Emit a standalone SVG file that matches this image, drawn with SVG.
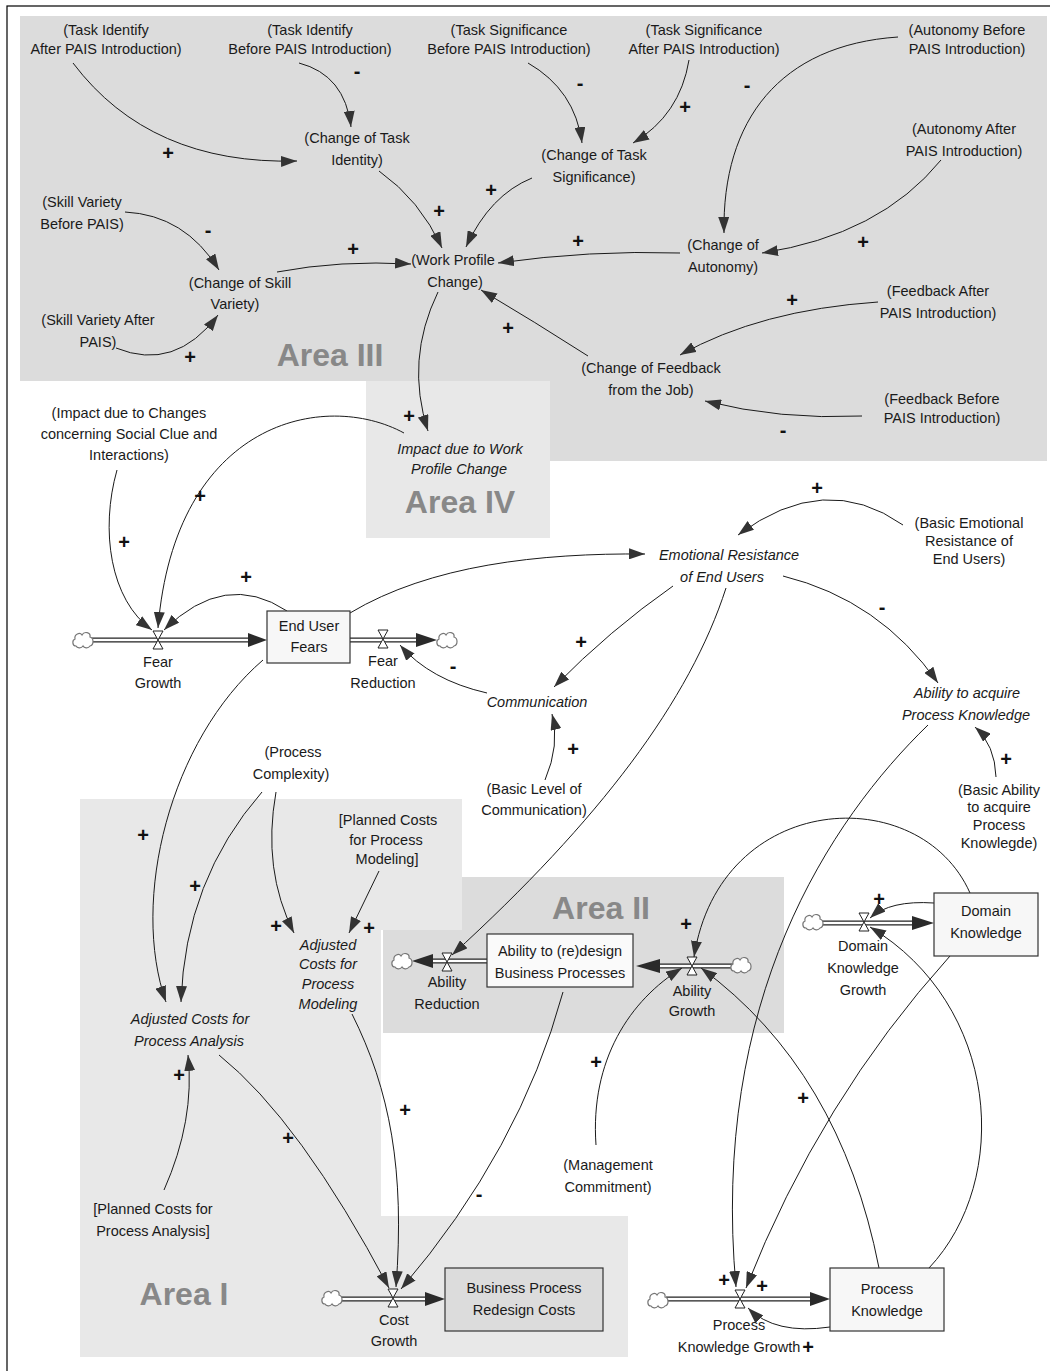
<svg xmlns="http://www.w3.org/2000/svg" xmlns:xlink="http://www.w3.org/1999/xlink" width="1050" height="1371" viewBox="0 0 1050 1371">
<style>
text{font-family:"Liberation Sans",Arial,sans-serif;font-size:14.5px;fill:#1a1a1a;text-anchor:middle}
.it{font-style:italic}
.area{font-size:32px;font-weight:bold;fill:#888}
.pol{font-size:20px;font-weight:bold;fill:#111}
.link{fill:none;stroke:#1a1a1a;stroke-width:1;marker-end:url(#ah)}
.pipeo{stroke:#222;stroke-width:5;fill:none}
.pipei{stroke:#fff;stroke-width:2.4;fill:none}
.stock{stroke:#333;stroke-width:1.2}
.valve{fill:#fff;stroke:#222;stroke-width:1}
.fh{fill:#2a2a2a}
</style>
<defs>
<marker id="ah" markerUnits="userSpaceOnUse" markerWidth="16" markerHeight="11" refX="16" refY="5.5" orient="auto"><path d="M0,0 L16,5.5 L0,11 z" fill="#333"/></marker>
<path id="cloud" d="M-7,6 C-11,6 -11,0 -8,-1 C-9,-6 -3,-8 -1,-5 C1,-9 8,-8 7,-3 C11,-2 11,5 7,6 C5,9 1,8 0,6 C-2,9 -6,8 -7,6 Z" fill="#fff" stroke="#777" stroke-width="1.2"/>
<path id="valve" d="M-5,-9 L5,-9 L-5,9 L5,9 Z"/>
</defs>
<rect x="0" y="0" width="1050" height="1371" fill="#fff"/>
<rect x="7" y="6" width="1100" height="1400" fill="none" stroke="#000" stroke-width="1.2"/>
<g id="areas">
<path d="M20,16 H1047 V461 H550 V381 H20 Z" fill="#dcdcdc"/>
<rect x="366" y="381" width="184" height="157" fill="#e8e8e8"/>
<rect x="383" y="877" width="401" height="156" fill="#dcdcdc"/>
<path d="M80,799 H462 V930 H381 V1216 H628 V1357 H80 Z" fill="#e8e8e8"/>
<text class="area" x="330" y="366">Area III</text>
<text class="area" x="460" y="513">Area IV</text>
<text class="area" x="601" y="919">Area II</text>
<text class="area" x="184" y="1305">Area I</text>
</g>
<g id="connectors">
<path class="link" d="M73,63 Q150,165 297,161"/>
<path class="link" d="M299,63 Q345,75 351,127"/>
<path class="link" d="M379,171 Q420,200 442,248"/>
<path class="link" d="M532,178 Q490,195 466,247"/>
<path class="link" d="M528,63 Q575,90 582,143"/>
<path class="link" d="M689,60 Q680,115 633,143"/>
<path class="link" d="M898,37 C780,45 722,120 724,233"/>
<path class="link" d="M941,160 Q880,235 762,253"/>
<path class="link" d="M680,253 Q590,250 498,263"/>
<path class="link" d="M277,272 Q340,260 411,264"/>
<path class="link" d="M125,212 Q185,215 219,270"/>
<path class="link" d="M116,348 Q175,372 218,315"/>
<path class="link" d="M588,356 Q535,322 481,290"/>
<path class="link" d="M878,302 Q760,310 680,355"/>
<path class="link" d="M862,416 Q780,420 705,401"/>
<path class="link" d="M438,292 Q405,360 428,431"/>
<path class="link" d="M404,433 C325,390 175,420 158,628"/>
<path class="link" d="M117,470 C100,530 110,600 152,630"/>
<path class="link" d="M287,611 Q225,570 164,630"/>
<path class="link" d="M350,613 C430,565 540,553 645,554"/>
<path class="link" d="M487,693 Q430,680 400,645"/>
<path class="link" d="M673,586 Q610,630 554,687"/>
<path class="link" d="M545,780 Q560,745 552,714"/>
<path class="link" d="M903,525 Q825,470 738,535"/>
<path class="link" d="M783,576 Q880,600 938,683"/>
<path class="link" d="M996,777 Q995,745 975,727"/>
<path class="link" d="M726,588 C690,700 600,820 452,955"/>
<path class="link" d="M928,725 C830,820 710,1000 736,1287"/>
<path class="link" d="M950,956 Q820,1100 746,1288"/>
<path class="link" d="M879,1268 Q840,1070 701,968"/>
<path class="link" d="M929,1268 C1012,1180 1000,1005 870,927"/>
<path class="link" d="M934,903 Q890,900 870,918"/>
<path class="link" d="M970,893 C920,780 720,790 694,957"/>
<path class="link" d="M596,1145 C590,1060 630,1000 682,968"/>
<path class="link" d="M830,1327 Q775,1335 748,1308"/>
<path class="link" d="M563,992 Q520,1150 401,1289"/>
<path class="link" d="M352,1014 C390,1090 405,1170 396,1287"/>
<path class="link" d="M219,1055 Q300,1120 389,1288"/>
<path class="link" d="M164,1190 Q195,1120 188,1055"/>
<path class="link" d="M263,660 C170,740 130,900 166,1002"/>
<path class="link" d="M262,792 Q185,880 181,1002"/>
<path class="link" d="M276,792 Q262,870 294,933"/>
<path class="link" d="M379,871 Q365,900 349,933"/>
</g>
<g id="polarities">
<text class="pol" x="168" y="160">+</text>
<text class="pol" x="357" y="78">-</text>
<text class="pol" x="439" y="218">+</text>
<text class="pol" x="491" y="197">+</text>
<text class="pol" x="580" y="90">-</text>
<text class="pol" x="685" y="114">+</text>
<text class="pol" x="747" y="92">-</text>
<text class="pol" x="863" y="249">+</text>
<text class="pol" x="578" y="248">+</text>
<text class="pol" x="353" y="256">+</text>
<text class="pol" x="208" y="237">-</text>
<text class="pol" x="190" y="364">+</text>
<text class="pol" x="508" y="335">+</text>
<text class="pol" x="792" y="307">+</text>
<text class="pol" x="783" y="437">-</text>
<text class="pol" x="409" y="423">+</text>
<text class="pol" x="200" y="503">+</text>
<text class="pol" x="124" y="549">+</text>
<text class="pol" x="246" y="584">+</text>
<text class="pol" x="453" y="673">-</text>
<text class="pol" x="581" y="649">+</text>
<text class="pol" x="573" y="756">+</text>
<text class="pol" x="817" y="495">+</text>
<text class="pol" x="882" y="614">-</text>
<text class="pol" x="1006" y="766">+</text>
<text class="pol" x="724" y="1287">+</text>
<text class="pol" x="762" y="1293">+</text>
<text class="pol" x="808" y="1354">+</text>
<text class="pol" x="803" y="1105">+</text>
<text class="pol" x="879" y="906">+</text>
<text class="pol" x="686" y="931">+</text>
<text class="pol" x="596" y="1069">+</text>
<text class="pol" x="479" y="1201">-</text>
<text class="pol" x="405" y="1117">+</text>
<text class="pol" x="288" y="1145">+</text>
<text class="pol" x="179" y="1082">+</text>
<text class="pol" x="143" y="842">+</text>
<text class="pol" x="195" y="893">+</text>
<text class="pol" x="276" y="933">+</text>
<text class="pol" x="369" y="935">+</text>
</g>
<g id="flows">
<g id="fear-growth">
<line class="pipeo" x1="90" y1="640" x2="252" y2="640"/><line class="pipei" x1="90" y1="640" x2="252" y2="640"/>
<path class="fh" d="M267,640 L248,633 L248,647 Z"/>
<use xlink:href="#cloud" href="#cloud" x="83" y="640"/>
<use class="valve" xlink:href="#valve" href="#valve" x="158" y="640"/>
<text x="158" y="667">Fear</text><text x="158" y="688">Growth</text>
</g>
<g id="fear-reduction">
<line class="pipeo" x1="350" y1="640" x2="420" y2="640"/><line class="pipei" x1="350" y1="640" x2="420" y2="640"/>
<path class="fh" d="M437,640 L416,633 L416,647 Z"/>
<use xlink:href="#cloud" href="#cloud" x="447" y="640"/>
<use class="valve" xlink:href="#valve" href="#valve" x="383" y="639"/>
<text x="383" y="666">Fear</text><text x="383" y="688">Reduction</text>
</g>
<g id="cost-growth">
<line class="pipeo" x1="340" y1="1299" x2="428" y2="1299"/><line class="pipei" x1="340" y1="1299" x2="428" y2="1299"/>
<path class="fh" d="M445,1299 L425,1292 L425,1306 Z"/>
<use xlink:href="#cloud" href="#cloud" x="332" y="1298"/>
<use class="valve" xlink:href="#valve" href="#valve" x="393" y="1298"/>
<text x="394" y="1325">Cost</text><text x="394" y="1346">Growth</text>
</g>
<g id="ability-reduction">
<line class="pipeo" x1="487" y1="961" x2="430" y2="961"/><line class="pipei" x1="487" y1="961" x2="430" y2="961"/>
<path class="fh" d="M412,961 L433,954 L433,968 Z"/>
<use xlink:href="#cloud" href="#cloud" x="402" y="961"/>
<use class="valve" xlink:href="#valve" href="#valve" x="447" y="962"/>
<text x="447" y="987">Ability</text><text x="447" y="1009">Reduction</text>
</g>
<g id="ability-growth">
<line class="pipeo" x1="733" y1="966" x2="656" y2="966"/><line class="pipei" x1="733" y1="966" x2="656" y2="966"/>
<path class="fh" d="M636,966 L660,959 L660,973 Z"/>
<use xlink:href="#cloud" href="#cloud" x="741" y="965"/>
<use class="valve" xlink:href="#valve" href="#valve" x="692" y="966"/>
<text x="692" y="996">Ability</text><text x="692" y="1016">Growth</text>
</g>
<g id="domain-knowledge-growth">
<line class="pipeo" x1="820" y1="923" x2="916" y2="923"/><line class="pipei" x1="820" y1="923" x2="916" y2="923"/>
<path class="fh" d="M934,923 L912,916 L912,930 Z"/>
<use xlink:href="#cloud" href="#cloud" x="813" y="922"/>
<use class="valve" xlink:href="#valve" href="#valve" x="864" y="922"/>
<text x="863" y="951">Domain</text><text x="863" y="973">Knowledge</text><text x="863" y="995">Growth</text>
</g>
<g id="process-knowledge-growth">
<line class="pipeo" x1="666" y1="1299" x2="814" y2="1299"/><line class="pipei" x1="666" y1="1299" x2="814" y2="1299"/>
<path class="fh" d="M830,1299 L810,1292 L810,1306 Z"/>
<use xlink:href="#cloud" href="#cloud" x="658" y="1300"/>
<use class="valve" xlink:href="#valve" href="#valve" x="740" y="1299"/>
<text x="739" y="1330">Process</text><text x="739" y="1352">Knowledge Growth</text>
</g>
</g>
<g id="stocks">
<g id="end-user-fears"><rect class="stock" x="267" y="611" width="83" height="52" fill="#f7f7f7"/><text x="309" y="631">End User</text><text x="309" y="652">Fears</text></g>
<g id="ability-redesign"><rect class="stock" x="487" y="934" width="146" height="53" fill="#fafafa"/><text x="560" y="956">Ability to (re)design</text><text x="560" y="978">Business Processes</text></g>
<g id="domain-knowledge"><rect class="stock" x="934" y="893" width="104" height="63" fill="#f7f7f7"/><text x="986" y="916">Domain</text><text x="986" y="938">Knowledge</text></g>
<g id="bpr-costs"><rect class="stock" x="445" y="1268" width="158" height="63" fill="#dcdcdc"/><text x="524" y="1293">Business Process</text><text x="524" y="1315">Redesign Costs</text></g>
<g id="process-knowledge"><rect class="stock" x="830" y="1268" width="114" height="63" fill="#f7f7f7"/><text x="887" y="1294">Process</text><text x="887" y="1316">Knowledge</text></g>
</g>
<g id="variables">
<g id="v1"><text x="106" y="35">(Task Identify</text><text x="106" y="54">After PAIS Introduction)</text></g>
<g id="v2"><text x="310" y="35">(Task Identify</text><text x="310" y="54">Before PAIS Introduction)</text></g>
<g id="v3"><text x="509" y="35">(Task Significance</text><text x="509" y="54">Before PAIS Introduction)</text></g>
<g id="v4"><text x="704" y="35">(Task Significance</text><text x="704" y="54">After PAIS Introduction)</text></g>
<g id="v5"><text x="967" y="35">(Autonomy Before</text><text x="967" y="54">PAIS Introduction)</text></g>
<g id="v6"><text x="357" y="143">(Change of Task</text><text x="357" y="165">Identity)</text></g>
<g id="v7"><text x="594" y="160">(Change of Task</text><text x="594" y="182">Significance)</text></g>
<g id="v8"><text x="964" y="134">(Autonomy After</text><text x="964" y="156">PAIS Introduction)</text></g>
<g id="v9"><text x="82" y="207">(Skill Variety</text><text x="82" y="229">Before PAIS)</text></g>
<g id="v10"><text x="240" y="288">(Change of Skill</text><text x="235" y="309">Variety)</text></g>
<g id="v11"><text x="453" y="265">(Work Profile</text><text x="455" y="287">Change)</text></g>
<g id="v12"><text x="723" y="250">(Change of</text><text x="723" y="272">Autonomy)</text></g>
<g id="v13"><text x="98" y="325">(Skill Variety After</text><text x="98" y="347">PAIS)</text></g>
<g id="v14"><text x="938" y="296">(Feedback After</text><text x="938" y="318">PAIS Introduction)</text></g>
<g id="v15"><text x="651" y="373">(Change of Feedback</text><text x="651" y="395">from the Job)</text></g>
<g id="v16"><text x="942" y="404">(Feedback Before</text><text x="942" y="423">PAIS Introduction)</text></g>
<g id="v17"><text x="129" y="418">(Impact due to Changes</text><text x="129" y="439">concerning Social Clue and</text><text x="129" y="460">Interactions)</text></g>
<g id="v18"><text class="it" x="460" y="454">Impact due to Work</text><text class="it" x="459" y="474">Profile Change</text></g>
<g id="v19"><text class="it" x="729" y="560">Emotional Resistance</text><text class="it" x="722" y="582">of End Users</text></g>
<g id="v20"><text x="969" y="528">(Basic Emotional</text><text x="969" y="546">Resistance of</text><text x="969" y="564">End Users)</text></g>
<g id="v21"><text class="it" x="537" y="707">Communication</text></g>
<g id="v22"><text class="it" x="967" y="698">Ability to acquire</text><text class="it" x="966" y="720">Process Knowledge</text></g>
<g id="v23"><text x="293" y="757">(Process</text><text x="291" y="779">Complexity)</text></g>
<g id="v24"><text x="534" y="794">(Basic Level of</text><text x="534" y="815">Communication)</text></g>
<g id="v25"><text x="999" y="795">(Basic Ability</text><text x="999" y="812">to acquire</text><text x="999" y="830">Process</text><text x="999" y="848">Knowlegde)</text></g>
<g id="v26"><text x="388" y="825">[Planned Costs</text><text x="386" y="845">for Process</text><text x="387" y="864">Modeling]</text></g>
<g id="v27"><text class="it" x="328" y="950">Adjusted</text><text class="it" x="328" y="969">Costs for</text><text class="it" x="328" y="989">Process</text><text class="it" x="328" y="1009">Modeling</text></g>
<g id="v28"><text class="it" x="190" y="1024">Adjusted Costs for</text><text class="it" x="189" y="1046">Process Analysis</text></g>
<g id="v29"><text x="608" y="1170">(Management</text><text x="608" y="1192">Commitment)</text></g>
<g id="v30"><text x="153" y="1214">[Planned Costs for</text><text x="153" y="1236">Process Analysis]</text></g>
</g>
</svg>
